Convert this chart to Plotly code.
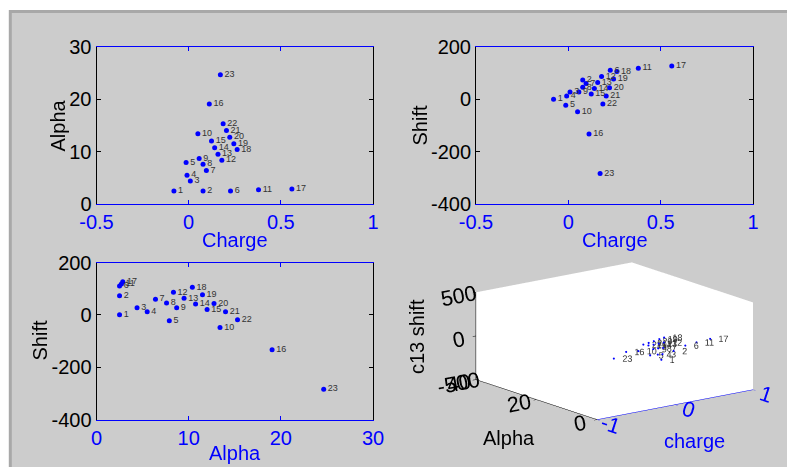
import plotly.graph_objects as go

# ---------------- data ----------------
labels = [str(i) for i in range(1, 24)]
charge = [-0.08, 0.078, 0.009, -0.009, -0.014, 0.227, 0.096, 0.078, 0.057, 0.05,
          0.379, 0.18, 0.159, 0.141, 0.124, 0.112, 0.56, 0.263, 0.245, 0.223,
          0.205, 0.187, 0.172]
alpha = [2.5, 2.5, 4.4, 5.5, 7.9, 2.5, 6.4, 7.6, 8.7, 13.4,
         2.7, 8.35, 9.5, 10.75, 12.0, 19.05, 2.85, 10.4, 11.5, 12.75,
         14.0, 15.3, 24.65]
shift = [0, 73, 27, 12, -23, 110, 60, 45, 27, -48,
         118, 86, 63, 41, 20, -133, 126, 105, 77, 43,
         12, -19, -284]

charge_ticks = [-0.5, 0, 0.5, 1]
charge_ticktext = ["-0.5", "0", "0.5", "1"]
alpha_ticks_y = [0, 10, 20, 30]
alpha_ticks_x = [0, 10, 20, 30]
shift_ticks = [-400, -200, 0, 200]
shift_ticktext = ["-400", "-200", "0", "200"]
c3_ticks = [-1, 0, 1]
c3_ticktext = ["-1", "0", "1"]
a3_ticks = [0, 20, 40]
s3_ticks = [-500, 0, 500]
s3_ticktext = ["-500", "0", "500"]

# ---------------- layout helpers ----------------
OFF = 8                      # page body margin
W, H = 795 - OFF, 467 - OFF  # figure size
BLUE = "#0000FF"
FONT = "Liberation Sans, Arial, sans-serif"


def fx(p):
    return (p - OFF) / W


def fy(p):
    return 1 - (p - OFF) / H


fig = go.Figure()


def add2d(x, y, xa, ya):
    fig.add_trace(go.Scatter(
        x=x, y=y, mode="markers+text", text=labels, textposition="middle right",
        marker=dict(color=BLUE, size=5), textfont=dict(size=9, color="#333333", family=FONT),
        xaxis=xa, yaxis=ya, cliponaxis=False, showlegend=False, hoverinfo="skip"))


add2d(charge, alpha, "x", "y")
add2d(charge, shift, "x2", "y2")
add2d(alpha, shift, "x3", "y3")

fig.add_trace(go.Scatter3d(
    x=charge, y=alpha, z=shift, mode="markers+text", text=labels,
    textposition="middle right",
    marker=dict(color=BLUE, size=1.2), textfont=dict(size=9, color="#333333", family=FONT),
    showlegend=False, hoverinfo="skip", scene="scene"))


def xax(domain, anchor, rng, tv, tt):
    return dict(domain=domain, anchor=anchor, range=rng, tickvals=tv, ticktext=tt,
                ticks="inside", ticklen=4, tickcolor=BLUE, showline=True, linecolor=BLUE,
                linewidth=1, mirror="ticks", showgrid=False, zeroline=False,
                tickfont=dict(size=20, color=BLUE, family=FONT), automargin=False)


def yax(domain, anchor, rng, tv, tt):
    return dict(domain=domain, anchor=anchor, range=rng, tickvals=tv, ticktext=tt,
                ticks="inside", ticklen=4, tickcolor="#000000", showline=True,
                linecolor="#000000", linewidth=1, mirror="ticks", showgrid=False,
                zeroline=False, tickfont=dict(size=20, color="#000000", family=FONT),
                automargin=False)


L1, R1 = fx(96.5), fx(373)
L2, R2 = fx(476), fx(753)
T1, B1 = fy(46.7), fy(204)
T2, B2 = fy(262.5), fy(419.5)

F3 = 16
EYE = 1.6
S = 1.556


def ax3(rng, tv, tt, color):
    return dict(range=rng, tickvals=tv, ticktext=tt, title=dict(text=""),
                tickfont=dict(size=F3, color=color, family=FONT),
                showbackground=True, backgroundcolor="#FFFFFF", showgrid=False,
                zeroline=False, showline=True, linecolor=color, ticks="outside",
                tickcolor=color, ticklen=4, showspikes=False)


fig.update_layout(
    width=W, height=H, margin=dict(l=0, r=0, t=0, b=0),
    paper_bgcolor="#FFFFFF", plot_bgcolor="#FFFFFF",
    font=dict(family=FONT, size=20, color="#000000"),
    xaxis=xax([L1, R1], "y", [-0.5, 1], charge_ticks, charge_ticktext),
    yaxis=yax([B1, T1], "x", [0, 30], alpha_ticks_y, [str(v) for v in alpha_ticks_y]),
    xaxis2=xax([L2, R2], "y2", [-0.5, 1], charge_ticks, charge_ticktext),
    yaxis2=yax([B1, T1], "x2", [-400, 200], shift_ticks, shift_ticktext),
    xaxis3=xax([L1, R1], "y3", [0, 30], alpha_ticks_x, [str(v) for v in alpha_ticks_x]),
    yaxis3=yax([B2, T2], "x3", [-400, 200], shift_ticks, shift_ticktext),
    scene=dict(
        domain=dict(x=[fx(434), 1.0], y=[0.0, fy(215)]),
        bgcolor="rgba(0,0,0,0)",
        aspectmode="manual", aspectratio=dict(x=1 * S, y=1.02 * S, z=0.46 * S),
        camera=dict(projection=dict(type="orthographic"),
                    up=dict(x=0, y=0, z=1), center=dict(x=0, y=0, z=0),
                    eye=dict(x=-0.587 * EYE, y=-0.770 * EYE, z=0.252 * EYE)),
        xaxis=ax3([-1, 1], c3_ticks, c3_ticktext, BLUE),
        yaxis=ax3([0, 40], a3_ticks, [str(v) for v in a3_ticks], "#000000"),
        zaxis=ax3([-500, 500], s3_ticks, s3_ticktext, "#000000"),
    ),
    shapes=[dict(type="rect", xref="paper", yref="paper", x0=fx(10.3), x1=1.05,
                 y0=-0.05, y1=fy(11.5), fillcolor="#CCCCCC",
                 line=dict(color="#A8A8A8", width=3), layer="below")],
)

# axis titles as annotations
ann = [
    dict(text="Alpha", x=fx(57), y=fy(125.5), textangle=-90, color="#000000"),
    dict(text="Charge", x=fx(234.5), y=fy(240), textangle=0, color=BLUE),
    dict(text="Shift", x=fx(419), y=fy(125.5), textangle=-90, color="#000000"),
    dict(text="Charge", x=fx(614.5), y=fy(240), textangle=0, color=BLUE),
    dict(text="Shift", x=fx(39.5), y=fy(341), textangle=-90, color="#000000"),
    dict(text="Alpha", x=fx(234.5), y=fy(453), textangle=0, color=BLUE),
    dict(text="c13 shift", x=fx(417), y=fy(337), textangle=-90, color="#000000"),
    dict(text="Alpha", x=fx(509), y=fy(438), textangle=0, color="#000000"),
    dict(text="charge", x=fx(694), y=fy(441), textangle=0, color=BLUE),
]
for a in ann:
    fig.add_annotation(text=a["text"], x=a["x"], y=a["y"], xref="paper", yref="paper",
                       xanchor="center", yanchor="middle", showarrow=False,
                       textangle=a["textangle"],
                       font=dict(size=20, color=a["color"], family=FONT))

fig.write_html("out.html", config={"displayModeBar": False})
